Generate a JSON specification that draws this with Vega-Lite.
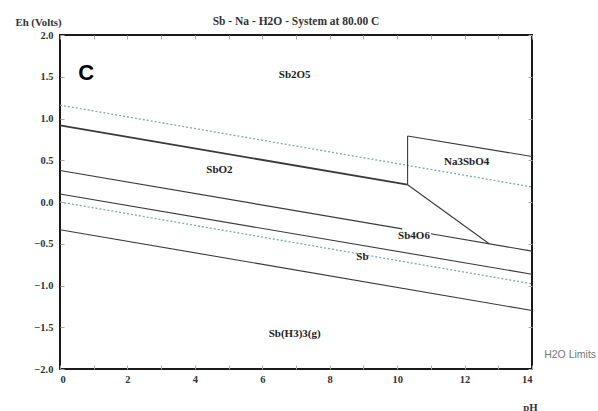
{
  "$schema": "https://vega.github.io/schema/vega-lite/v6.json",
  "autosize": "none",
  "width": 472,
  "height": 334,
  "padding": {"left": 60, "top": 35, "right": 66, "bottom": 42},
  "background": "white",
  "config": {
    "view": {"stroke": "#1a1a1a", "strokeWidth": 2},
    "axis": {"grid": false, "domain": false, "labelFont": "Liberation Serif", "labelFontWeight": "bold", "labelFontSize": 10.5, "labelColor": "#333", "tickColor": "#aaa", "titleFont": "Liberation Serif", "titleFontWeight": "bold", "titleFontSize": 10.8, "titleColor": "#333"}
  },
  "title": {"text": "Sb - Na - H2O - System at 80.00 C", "font": "Liberation Serif", "fontWeight": "bold", "fontSize": 11.5, "color": "#333", "anchor": "middle", "offset": 7, "dy": 18},
  "datasets": {
    "lines": [
      {"seg": "L1", "kind": "thick", "pH": 0, "Eh": 0.917},
      {"seg": "L1", "kind": "thick", "pH": 10.31, "Eh": 0.207},
      {"seg": "V", "kind": "solid", "pH": 10.31, "Eh": 0.207},
      {"seg": "V", "kind": "solid", "pH": 10.31, "Eh": 0.79},
      {"seg": "L5", "kind": "solid", "pH": 10.31, "Eh": 0.79},
      {"seg": "L5", "kind": "solid", "pH": 14, "Eh": 0.545},
      {"seg": "D", "kind": "solid", "pH": 10.31, "Eh": 0.207},
      {"seg": "D", "kind": "solid", "pH": 12.73, "Eh": -0.5},
      {"seg": "L2a", "kind": "solid", "pH": 0, "Eh": 0.378},
      {"seg": "L2a", "kind": "solid", "pH": 10.15, "Eh": -0.322},
      {"seg": "L2b", "kind": "solid", "pH": 11.0, "Eh": -0.381},
      {"seg": "L2b", "kind": "solid", "pH": 14, "Eh": -0.588},
      {"seg": "L3", "kind": "solid", "pH": 0, "Eh": 0.095},
      {"seg": "L3", "kind": "solid", "pH": 14, "Eh": -0.865},
      {"seg": "L4", "kind": "solid", "pH": 0, "Eh": -0.332},
      {"seg": "L4", "kind": "solid", "pH": 14, "Eh": -1.299},
      {"seg": "W1", "kind": "dotted", "pH": 0, "Eh": 1.16},
      {"seg": "W1", "kind": "dotted", "pH": 14, "Eh": 0.18},
      {"seg": "W2", "kind": "dotted", "pH": 0, "Eh": 0.0},
      {"seg": "W2", "kind": "dotted", "pH": 14, "Eh": -0.98}
    ],
    "labels": [
      {"label": "Sb2O5", "pH": 6.96, "Eh": 1.52},
      {"label": "SbO2", "pH": 4.73, "Eh": 0.386},
      {"label": "Na3SbO4", "pH": 12.06, "Eh": 0.474},
      {"label": "Sb4O6", "pH": 10.5, "Eh": -0.41},
      {"label": "Sb", "pH": 8.97, "Eh": -0.66},
      {"label": "Sb(H3)3(g)", "pH": 6.96, "Eh": -1.58}
    ]
  },
  "layer": [
    {
      "data": {"name": "lines"},
      "transform": [{"filter": "datum.kind === 'dotted'"}],
      "mark": {"type": "line", "stroke": "#84a99e", "strokeWidth": 1.3, "strokeDash": [2, 2]},
      "encoding": {
        "x": {"field": "pH", "type": "quantitative", "scale": {"domain": [0, 14], "nice": false},
              "axis": {"orient": "bottom", "title": "pH", "values": [0,1,2,3,4,5,6,7,8,9,10,11,12,13,14], "labelExpr": "datum.value % 2 === 0 ? datum.label : ''", "tickSize": -4, "labelPadding": 9, "titleX": 470, "titleY": 38, "titleAlign": "center", "titleBaseline": "middle"}},
        "y": {"field": "Eh", "type": "quantitative", "scale": {"domain": [-2, 2], "nice": false},
              "axis": {"orient": "left", "title": "Eh (Volts)", "values": [-2,-1.5,-1,-0.5,0,0.5,1,1.5,2], "format": ".1f", "tickSize": -4, "labelPadding": 11, "titleAngle": 0, "titleX": -22, "titleY": -13, "titleAlign": "center", "titleBaseline": "middle"}},
        "detail": {"field": "seg"}
      }
    },
    {
      "data": {"name": "lines"},
      "transform": [{"filter": "datum.kind !== 'dotted'"}],
      "mark": {"type": "line", "stroke": "#3a3a3a"},
      "encoding": {
        "x": {"field": "pH", "type": "quantitative", "axis": {"orient": "top", "title": null, "labels": false, "values": [0,1,2,3,4,5,6,7,8,9,10,11,12,13,14], "tickSize": -4}},
        "y": {"field": "Eh", "type": "quantitative", "axis": {"orient": "right", "title": null, "labels": false, "values": [-2,-1.5,-1,-0.5,0,0.5,1,1.5,2], "tickSize": -4}},
        "detail": {"field": "seg"},
        "strokeWidth": {"field": "kind", "type": "nominal", "scale": {"domain": ["thick", "solid"], "range": [1.8, 1.1]}, "legend": null}
      }
    },
    {
      "data": {"name": "labels"},
      "mark": {"type": "text", "font": "Liberation Serif", "fontWeight": "bold", "fontSize": 11, "color": "#222", "align": "center", "baseline": "middle"},
      "encoding": {
        "x": {"field": "pH", "type": "quantitative", "axis": null},
        "y": {"field": "Eh", "type": "quantitative", "axis": null},
        "text": {"field": "label"}
      }
    },
    {
      "data": {"values": [{"t": "C", "pH": 0.78, "Eh": 1.55}]},
      "mark": {"type": "text", "font": "Liberation Sans", "fontWeight": "bold", "fontSize": 22, "color": "#000", "align": "center", "baseline": "middle"},
      "encoding": {
        "x": {"field": "pH", "type": "quantitative", "axis": null},
        "y": {"field": "Eh", "type": "quantitative", "axis": null},
        "text": {"field": "t"}
      }
    },
    {
      "data": {"values": [{"t": "H2O Limits", "pH": 14.36, "Eh": -1.83}]},
      "mark": {"type": "text", "font": "Liberation Sans", "fontSize": 10.5, "color": "#777", "align": "left", "baseline": "middle", "clip": false},
      "encoding": {
        "x": {"field": "pH", "type": "quantitative", "axis": null},
        "y": {"field": "Eh", "type": "quantitative", "axis": null},
        "text": {"field": "t"}
      }
    }
  ],
  "resolve": {"axis": {"x": "independent", "y": "independent"}}
}
